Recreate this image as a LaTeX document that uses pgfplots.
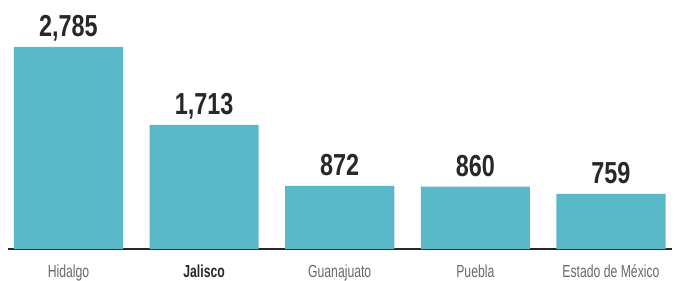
\documentclass[border=0pt]{standalone}
\usepackage{pgfplots}
\pgfplotsset{compat=1.18}
\usepackage{pgfplotstable}
\usepackage{fontspec}
\setmainfont{Liberation Sans}
\newfontfamily\valfont[FakeStretch=0.77]{Liberation Sans}
\newfontfamily\labfont[FakeStretch=0.7]{Liberation Sans}
\definecolor{barc}{RGB}{90,185,200}
\definecolor{txt}{RGB}{40,40,40}
\pgfplotstableread{
x y lab
0 2785 2,785
1 1713 1,713
2 872 872
3 860 860
4 759 759
}\data
\begin{document}
\begin{tikzpicture}
\path[use as bounding box] (0,0) rectangle (675bp,281bp);
\begin{axis}[
  at={(8bp,32bp)}, anchor=south west,
  scale only axis, width=664bp, height=249bp,
  xmin=-0.446, xmax=4.45, ymin=0, ymax=3433,
  axis x line*=bottom, axis y line=none,
  x axis line style={draw=txt, line width=1.2bp, -},
  xtick=data, major tick length=0pt,
  xticklabels={Hidalgo,\textcolor{txt}{\textbf{Jalisco}},Guanajuato,Puebla,Estado de México},
  xticklabel style={anchor=base, yshift=-28bp, font=\labfont\fontsize{17.5}{18}\selectfont, text=txt!70},
  ybar, bar width=0.805, bar shift=0pt,
  clip=false,
  nodes near coords={\pgfplotspointmeta},
  point meta=explicit symbolic,
  every node near coord/.append style={anchor=base, yshift=10bp, inner sep=0pt, font=\valfont\bfseries\fontsize{30.5}{32}\selectfont, text=txt},
]
\addplot[fill=barc, draw=none] table[x=x, y=y, meta=lab] {\data};
\end{axis}
\end{tikzpicture}
\end{document}
